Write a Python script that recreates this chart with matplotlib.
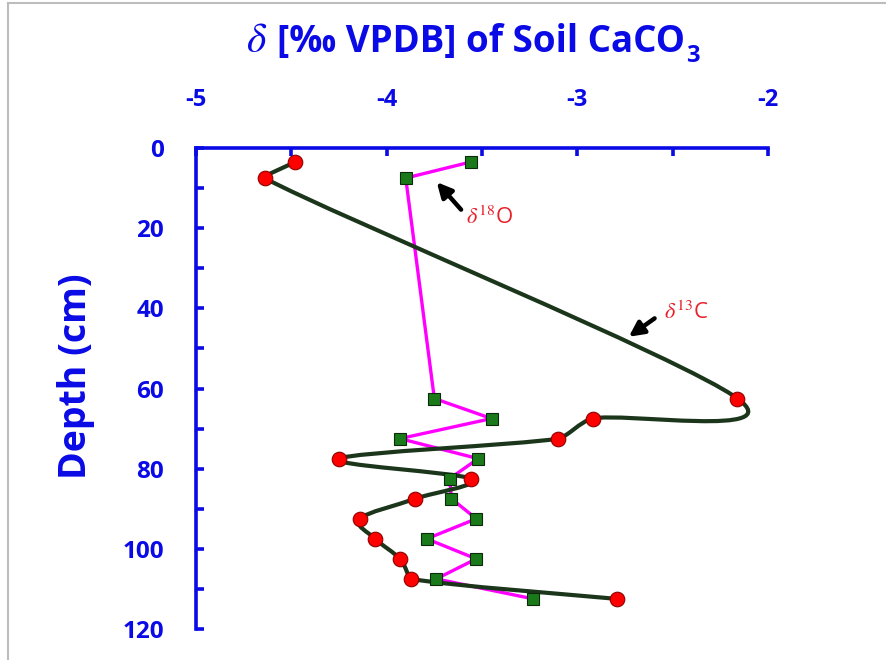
import numpy as np
import matplotlib
matplotlib.use('Agg')
import matplotlib.pyplot as plt
from matplotlib.path import Path
from matplotlib.patches import PathPatch
from matplotlib.lines import Line2D

plt.rcParams['font.family'] = ['Open Sans', 'DejaVu Sans']
plt.rcParams['mathtext.fontset'] = 'stix'
plt.rcParams['axes.unicode_minus'] = False

# data
depth_c13 = [3.5, 7.5, 62.5, 67.5, 72.5, 77.5, 82.5, 87.5, 92.5, 97.5, 102.5, 107.5, 112.5]
d13c = [-4.48, -4.64, -2.16, -2.92, -3.10, -4.25, -3.56, -3.85, -4.14, -4.06, -3.93, -3.87, -2.79]
depth_o18 = [3.5, 7.5, 62.5, 67.5, 72.5, 77.5, 82.5, 87.5, 92.5, 97.5, 102.5, 107.5, 112.5]
d18o = [-3.56, -3.90, -3.75, -3.45, -3.93, -3.52, -3.67, -3.66, -3.53, -3.79, -3.53, -3.74, -3.23]

x_major = [-5, -4, -3, -2]
x_minor = [-4.5, -3.5, -2.5]
y_major = list(range(0, 121, 20))
y_minor = list(range(10, 120, 20))

BLUE = '#0A0AE6'
RED = '#E8202A'
DARK = '#1C361C'
W, H = 887, 660


def smooth_line(ax, xs, ys, **kw):
    # Excel-style smoothed line: cubic Bezier segments through the points
    pts = ax.transData.transform(np.column_stack([xs, ys]))
    n = len(pts)
    verts = [pts[0]]
    codes = [Path.MOVETO]

    def limit(t, seg):
        # shrink handles that are long compared with a short segment
        l = np.hypot(*t)
        half = seg / 2
        if l > half:
            return t * (half * half / l) / l
        return t

    for i in range(n - 1):
        p0 = pts[max(i - 1, 0)]
        p1 = pts[i]
        p2 = pts[i + 1]
        p3 = pts[min(i + 2, n - 1)]
        seg = np.hypot(*(p2 - p1))
        t1 = limit((p2 - p0) / 6.0, seg)
        t2 = limit((p3 - p1) / 6.0, seg)
        verts += [p1 + t1, p2 - t2, p2]
        codes += [Path.CURVE4] * 3
    verts = ax.transData.inverted().transform(np.array(verts))
    ax.add_patch(PathPatch(Path(verts, codes), fill=False, **kw))


fig = plt.figure(figsize=(W / 100, H / 100), dpi=100)
ax = fig.add_axes([196 / W, 1 - 629 / H, (768 - 196) / W, (629 - 148) / H])

ax.set_xlim(-5, -2)
ax.set_ylim(120, 0)
ax.xaxis.tick_top()

for side in ['bottom', 'right']:
    ax.spines[side].set_visible(False)
for side in ['top', 'left']:
    ax.spines[side].set_color(BLUE)
    ax.spines[side].set_linewidth(2.6)

ax.set_xticks(x_major)
ax.set_xticks(x_minor, minor=True)
ax.set_yticks(y_major)
ax.set_yticks(y_minor, minor=True)
ax.tick_params(which='both', direction='in', length=6, width=2.6, color=BLUE)
ax.tick_params(axis='x', labelsize=17, labelcolor=BLUE, pad=26)
ax.tick_params(axis='y', labelsize=17.5, labelcolor=BLUE, pad=23)
for lab in ax.get_xticklabels() + ax.get_yticklabels():
    lab.set_fontweight('bold')

# series
ax.plot(d18o, depth_o18, color='#FF00FF', lw=2.4, zorder=2)
smooth_line(ax, d13c, depth_c13, edgecolor=DARK, lw=3.0, zorder=3)
ax.plot(d13c, depth_c13, ls='none', marker='o', ms=10.5, mfc='#FF0000',
        mec='#8B0000', mew=0.8, zorder=5, clip_on=False)
ax.plot(d18o, depth_o18, ls='none', marker='s', ms=8.5, mfc='#1A7A1A',
        mec='#0A2A0A', mew=0.8, zorder=5, clip_on=False)

# annotations
ax.annotate('', xy=(-3.747, 8.0), xytext=(-3.60, 15.9),
            arrowprops=dict(arrowstyle='-|>', lw=3.2, color='black', mutation_scale=22))
ax.text(-3.582, 17.5, r'$\delta^{18}$O', color=RED, fontsize=16, va='center', ha='left')
ax.annotate('', xy=(-2.742, 47.5), xytext=(-2.583, 42.1),
            arrowprops=dict(arrowstyle='-|>', lw=3.2, color='black', mutation_scale=22))
ax.text(-2.545, 41.2, r'$\delta^{13}$C', color=RED, fontsize=16, va='center', ha='left')

# title and y label
fig.text(246 / W, 1 - 52 / H, r'$\delta$', fontsize=30, color=BLUE, ha='left', va='baseline')
title = fig.text(277 / W, 1 - 52 / H, '[‰ VPDB] of Soil CaCO', fontsize=26.5,
                 fontweight='bold', color=BLUE, ha='left', va='baseline')
renderer = fig.canvas.get_renderer()
bb = title.get_window_extent(renderer)
fig.text(bb.x1 / W + 1 / W, 1 - 62 / H, '3', fontsize=17, fontweight='bold',
         color=BLUE, ha='left', va='baseline')
fig.text(76 / W, 1 - 376 / H, 'Depth (cm)', fontsize=27, fontweight='bold',
         color=BLUE, rotation=90, ha='center', va='center')

# slide frame lines
fig.add_artist(Line2D([8 / W, 1], [1 - 3 / H, 1 - 3 / H], color='#BDBDBD', lw=1.5))
fig.add_artist(Line2D([8 / W, 8 / W], [0, 1 - 3 / H], color='#BDBDBD', lw=1.5))

fig.savefig('out.png', dpi=100)
